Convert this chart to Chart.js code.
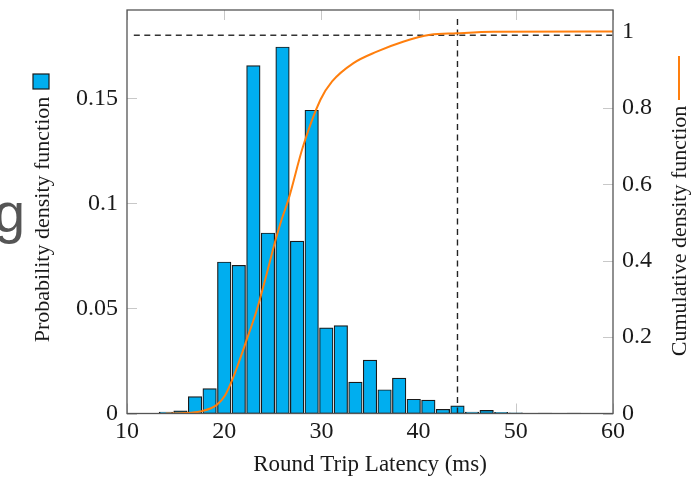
<!DOCTYPE html>
<html>
<head>
<meta charset="utf-8">
<script src="https://cdn.jsdelivr.net/npm/chart.js@4.4.0/dist/chart.umd.min.js"></script>
<style>
  html, body { margin: 0; padding: 0; background: #fff; }
  #wrap { width: 695px; height: 477px; }
</style>
</head>
<body>
<div id="wrap"><canvas id="chart" width="695" height="477"></canvas></div>
<script>
// histogram: bin centre (ms) and probability of each bin
const binCentres = [14, 15.5, 17, 18.5, 20, 21.5, 23, 24.5, 26, 27.5, 29, 30.5, 32, 33.5, 35, 36.5, 38, 39.5, 41, 42.5, 44, 45.5, 47, 48.5, 50, 51.5, 53, 54.5, 56, 57.5];
const pdfValues = [0.0007, 0.0013, 0.0080, 0.0118, 0.0721, 0.0705, 0.1655, 0.0859, 0.1744, 0.0820, 0.1443, 0.0408, 0.0418, 0.0149, 0.0254, 0.0113, 0.0168, 0.0068, 0.0064, 0.0020, 0.0036, 0.0007, 0.0015, 0.0006, 0.0003, 0.0001, 0.0002, 0, 0.0002, 0];

// cumulative curve
const cdfLatency = [14, 16, 17.5, 19.2, 20.1, 20.95, 22.3, 23.35, 24.2, 25.2, 25.9, 26.6, 28.1, 29.9, 31.1, 33.3, 35.7, 38.4, 41.2, 43.9, 47.7, 60];
const cdfValues = [0, 0.001, 0.005, 0.022, 0.048, 0.096, 0.192, 0.271, 0.349, 0.446, 0.507, 0.559, 0.698, 0.821, 0.869, 0.917, 0.947, 0.973, 0.991, 0.995, 0.999, 1.0];

// 99th percentile guide lines
const p99Latency = 44;
const p99Level = 0.99;
const p99LineStart = 10.7;
const p99LineTop = 1.035;

// axes
const xTicks = [10, 20, 30, 40, 50, 60];
const pdfTicks = [0, 0.05, 0.1, 0.15];
const cdfTicks = [0, 0.2, 0.4, 0.6, 0.8, 1];
const xMin = 10, xMax = 60;
const pdfMax = 0.192;
const cdfMax = 1.056;

const SERIF = '"Liberation Serif", "Times New Roman", serif';
const BAR_FILL = '#00aeef';
const BAR_EDGE = '#1a1a1a';
const CDF_COLOR = '#ff7f0e';
const TEXT = '#1a1a1a';

const frame = {
    id: 'frame',
    beforeDatasetsDraw(chart) {
        // pgfplots style inner tick marks
        const { ctx, chartArea: a, scales } = chart;
        ctx.save();
        ctx.strokeStyle = '#c8c8c8';
        ctx.lineWidth = 1;
        ctx.beginPath();
        xTicks.forEach(v => {
            const px = Math.round(scales.x.getPixelForValue(v)) + 0.5;
            ctx.moveTo(px, a.bottom); ctx.lineTo(px, a.bottom - 10);
            ctx.moveTo(px, a.top); ctx.lineTo(px, a.top + 10);
        });
        pdfTicks.forEach(v => {
            const py = Math.round(scales.y.getPixelForValue(v)) + 0.5;
            ctx.moveTo(a.left, py); ctx.lineTo(a.left + 10, py);
        });
        cdfTicks.forEach(v => {
            const py = Math.round(scales.y2.getPixelForValue(v)) + 0.5;
            ctx.moveTo(a.right, py); ctx.lineTo(a.right - 10, py);
        });
        ctx.stroke();
        ctx.restore();
    },
    afterDraw(chart) {
        const { ctx, chartArea: a } = chart;
        ctx.save();
        // box
        ctx.strokeStyle = '#555';
        ctx.lineWidth = 1.3;
        ctx.strokeRect(a.left, a.top, a.right - a.left, a.bottom - a.top);

        ctx.fillStyle = TEXT;
        // x title
        ctx.font = '23px ' + SERIF;
        ctx.textAlign = 'center';
        ctx.textBaseline = 'middle';
        ctx.fillText('Round Trip Latency (ms)', (a.left + a.right) / 2, 465);

        // left title with its legend box
        ctx.font = '22px ' + SERIF;
        ctx.textBaseline = 'alphabetic';
        ctx.save();
        ctx.translate(49, 219.5);
        ctx.rotate(-Math.PI / 2);
        ctx.fillText('Probability density function', 0, 0);
        ctx.restore();
        ctx.fillStyle = BAR_FILL;
        ctx.strokeStyle = BAR_EDGE;
        ctx.lineWidth = 1.2;
        ctx.fillRect(33, 74, 16, 15);
        ctx.strokeRect(33, 74, 16, 15);

        // right title with its legend line
        ctx.fillStyle = TEXT;
        ctx.save();
        ctx.translate(686, 231);
        ctx.rotate(-Math.PI / 2);
        ctx.fillText('Cumulative density function', 0, 0);
        ctx.restore();
        ctx.strokeStyle = CDF_COLOR;
        ctx.lineWidth = 2;
        ctx.beginPath();
        ctx.moveTo(679, 56); ctx.lineTo(679, 100);
        ctx.stroke();

        // cropped letter at the left edge of the original image
        ctx.fillStyle = '#555';
        ctx.font = '56px "Liberation Sans", Arial, sans-serif';
        ctx.textAlign = 'left';
        ctx.fillText('g', -6, 232);
        ctx.restore();
    }
};

const tickFont = { family: SERIF, size: 24 };

// keep the plot box where the reference has it
function noPad(s) {
    s.paddingTop = 0;
    s.paddingBottom = 0;
    s.paddingLeft = 0;
    s.paddingRight = 0;
}

new Chart(document.getElementById('chart'), {
    type: 'bar',
    data: {
        datasets: [
            {
                type: 'line',
                label: 'Cumulative density function',
                data: cdfLatency.map((x, i) => ({ x, y: cdfValues[i] })),
                yAxisID: 'y2',
                borderColor: CDF_COLOR,
                borderWidth: 2,
                pointRadius: 0,
                cubicInterpolationMode: 'monotone',
                order: 0
            },
            {
                type: 'line',
                data: [{ x: p99LineStart, y: p99Level }, { x: xMax, y: p99Level }],
                yAxisID: 'y2',
                borderColor: '#333',
                borderWidth: 1.4,
                borderDash: [6, 4.5],
                pointRadius: 0,
                order: 1
            },
            {
                type: 'line',
                data: [{ x: p99Latency, y: 0 }, { x: p99Latency, y: p99LineTop }],
                yAxisID: 'y2',
                borderColor: '#222',
                borderWidth: 1.4,
                borderDash: [6, 4.5],
                pointRadius: 0,
                order: 1
            },
            {
                type: 'bar',
                label: 'Probability density function',
                data: binCentres.map((x, i) => ({ x, y: pdfValues[i] })),
                yAxisID: 'y',
                backgroundColor: BAR_FILL,
                borderColor: BAR_EDGE,
                borderWidth: 1.2,
                borderSkipped: false,
                barThickness: 13.5,
                order: 2
            }
        ]
    },
    options: {
        responsive: false,
        animation: false,
        layout: { padding: { top: 10, left: 0, right: 0, bottom: 0 } },
        plugins: { legend: { display: false }, tooltip: { enabled: false } },
        scales: {
            x: {
                type: 'linear',
                position: 'bottom',
                min: xMin,
                max: xMax,
                offset: false,
                grid: { display: false, drawTicks: false, offset: false },
                border: { display: false },
                ticks: { font: tickFont, color: TEXT, padding: 4, maxRotation: 0, autoSkip: false },
                afterBuildTicks: s => { s.ticks = xTicks.map(v => ({ value: v })); },
                afterFit: s => { s.height = 63.5; noPad(s); }
            },
            y: {
                type: 'linear',
                position: 'left',
                min: 0,
                max: pdfMax,
                grid: { display: false, drawTicks: false },
                border: { display: false },
                ticks: { font: tickFont, color: TEXT, padding: 9, callback: v => String(v) },
                afterBuildTicks: s => { s.ticks = pdfTicks.map(v => ({ value: v })); },
                afterFit: s => { s.width = 127; noPad(s); }
            },
            y2: {
                type: 'linear',
                position: 'right',
                min: 0,
                max: cdfMax,
                grid: { display: false, drawTicks: false },
                border: { display: false },
                ticks: { font: tickFont, color: TEXT, padding: 9, callback: v => String(v) },
                afterBuildTicks: s => { s.ticks = cdfTicks.map(v => ({ value: v })); },
                afterFit: s => { s.width = 82; noPad(s); }
            }
        }
    },
    plugins: [frame]
});
</script>
</body>
</html>
